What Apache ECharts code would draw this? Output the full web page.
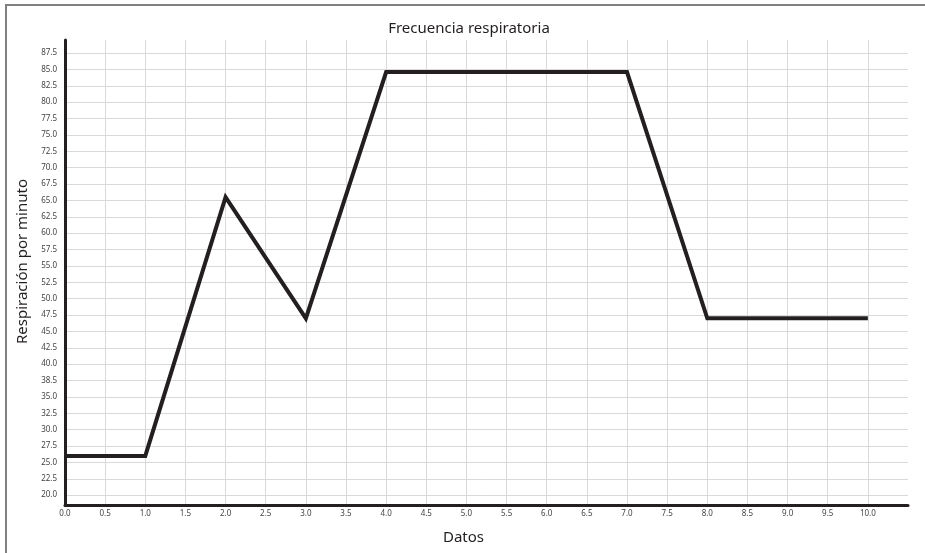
<!DOCTYPE html>
<html>
<head>
<meta charset="utf-8">
<script src="https://cdn.jsdelivr.net/npm/echarts@6/dist/echarts.min.js"></script>
<style>
html,body{margin:0;padding:0;background:#fff;}
#chart{width:925px;height:553px;}
</style>
</head>
<body>
<div id="chart"></div>
<script>
// Data
var xValues = [0, 1, 2, 3, 4, 5, 6, 7, 8, 9, 10];
var yValues = [26, 26, 65.5, 47, 84.6, 84.6, 84.6, 84.6, 47, 47, 47];
var xTickValues = [0,0.5,1,1.5,2,2.5,3,3.5,4,4.5,5,5.5,6,6.5,7,7.5,8,8.5,9,9.5,10];
var xTickLabels = ['0.0','0.5','1.0','1.5','2.0','2.5','3.0','3.5','4.0','4.5','5.0','5.5','6.0','6.5','7.0','7.5','8.0','8.5','9.0','9.5','10.0'];
var yTickValues = [20,22.5,25,27.5,30,32.5,35,37.5,40,42.5,45,47.5,50,52.5,55,57.5,60,62.5,65,67.5,70,72.5,75,77.5,80,82.5,85,87.5];
var yTickLabels = ['20.0','22.5','25.0','27.5','30.0','32.5','35.0','38.5','40.0','42.5','45.0','47.5','50.0','52.5','55.0','57.5','60.0','62.5','65.0','67.5','70.0','72.5','75.0','77.5','80.0','82.5','85.0','87.5'];
var titleText = 'Frecuencia respiratoria';
var xName = 'Datos';
var yName = 'Respiración por minuto';

var seriesData = xValues.map(function (x, i) { return [x, yValues[i]]; });
function labelFor(values, labels) {
  return function (v) {
    for (var i = 0; i < values.length; i++) {
      if (Math.abs(values[i] - v) < 1e-6) return labels[i];
    }
    return '';
  };
}
var FONT = 'Noto Sans';
var chart = echarts.init(document.getElementById('chart'), null, {renderer: 'canvas'});
chart.setOption({
  backgroundColor: '#fff',
  animation: false,
  title: {
    text: titleText,
    left: 464,
    textAlign: 'center',
    top: 16,
    textStyle: {fontFamily: FONT, fontSize: 15, fontWeight: 'normal', color: '#231f20'}
  },
  graphic: [{
    type: 'rect',
    shape: {x: 6, y: 5, width: 1000, height: 1000},
    style: {fill: 'none', stroke: '#808080', lineWidth: 2},
    silent: true
  }],
  grid: {left: 65, right: 17, top: 40, bottom: 48, containLabel: false},
  xAxis: {
    type: 'value',
    min: 0,
    max: 10.5,
    name: xName,
    nameLocation: 'middle',
    nameGap: 25,
    nameTextStyle: {fontFamily: FONT, fontSize: 15, color: '#231f20', padding: [0, 46, 0, 0]},
    axisLine: {show: true, onZero: false, lineStyle: {color: '#231f20', width: 3}},
    axisTick: {show: false, customValues: xTickValues},
    axisLabel: {customValues: xTickValues, formatter: labelFor(xTickValues, xTickLabels), fontFamily: FONT, fontSize: 8, color: '#444', margin: 5},
    splitLine: {show: true, lineStyle: {color: '#d9d9d9', width: 1}}
  },
  yAxis: {
    type: 'value',
    min: 18.5,
    max: 89.5,
    name: yName,
    nameLocation: 'middle',
    nameGap: 32,
    nameTextStyle: {fontFamily: FONT, fontSize: 15, color: '#231f20', padding: [0, 0, 0, 22]},
    axisLine: {show: true, onZero: false, lineStyle: {color: '#231f20', width: 3}},
    axisTick: {show: false, customValues: yTickValues},
    axisLabel: {customValues: yTickValues, formatter: labelFor(yTickValues, yTickLabels), fontFamily: FONT, fontSize: 8, color: '#444', margin: 8},
    splitLine: {show: true, lineStyle: {color: '#d9d9d9', width: 1}}
  },
  series: [{
    type: 'line',
    data: seriesData,
    showSymbol: false,
    symbol: 'none',
    lineStyle: {color: '#231f20', width: 4, join: 'miter'},
    z: 5
  }]
});
</script>
</body>
</html>
